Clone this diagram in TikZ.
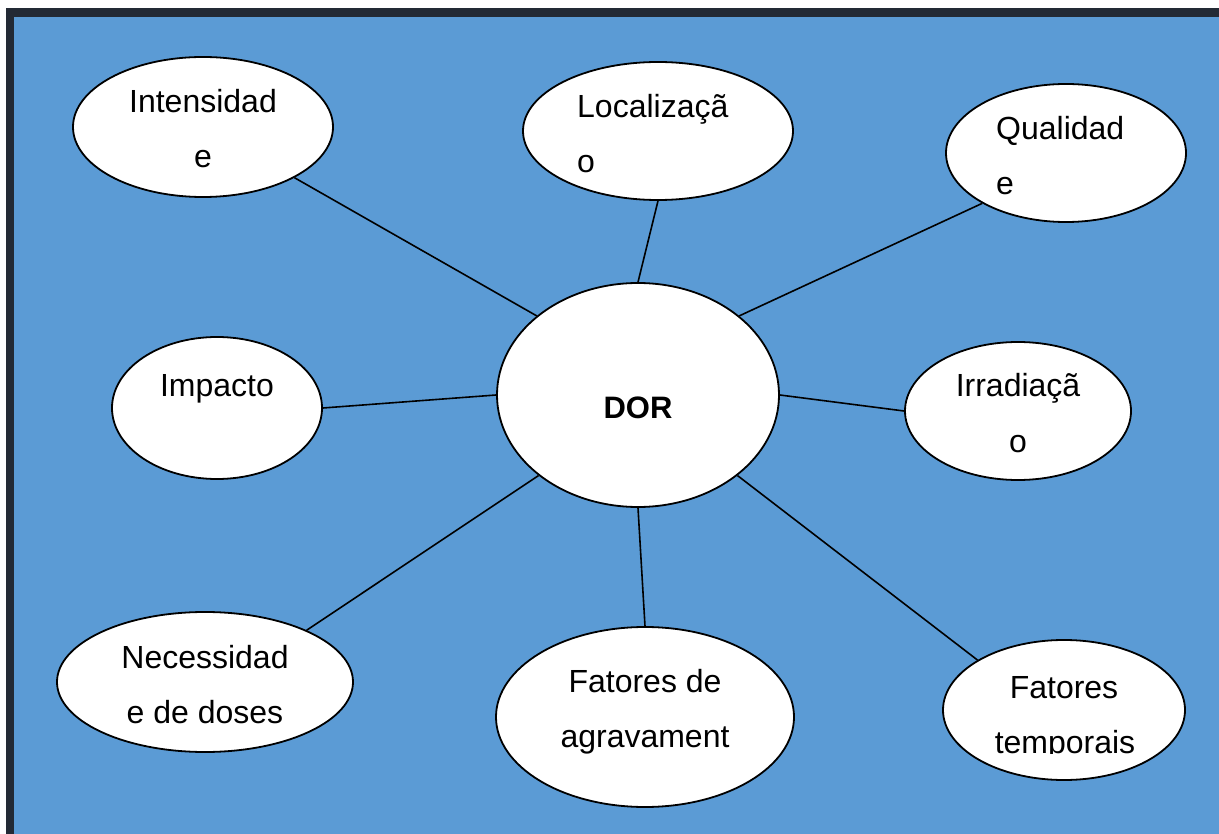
\documentclass[tikz,border=0pt]{standalone}
\usepackage{fontspec}
\setmainfont{Liberation Sans}
\usetikzlibrary{shapes.geometric}
\definecolor{bgblue}{HTML}{5B9BD5}
\definecolor{framecol}{HTML}{232A35}
\begin{document}
\begin{tikzpicture}[x=1pt,y=-1pt,
  bubble/.style={ellipse, draw=black, line width=1.8pt, fill=white, inner sep=0pt},
  lbl/.style={inner sep=0pt, font=\fontsize{32}{36}\selectfont},
  link/.style={draw=black, line width=1.6pt}]
\useasboundingbox (0,0) rectangle (1219,834);
\fill[white] (0,0) rectangle (1219,834);
\fill[framecol] (6,8) rectangle (1219,834);
\fill[bgblue] (14,17) rectangle (1219,834);

% ellipses
\node[bubble, minimum width=260pt, minimum height=140pt] (int) at (203,127) {};
\node[bubble, minimum width=270pt, minimum height=138pt] (loc) at (658,131) {};
\node[bubble, minimum width=240pt, minimum height=138pt] (qual) at (1066,153) {};
\node[bubble, minimum width=210pt, minimum height=142pt] (imp) at (217,408) {};
\node[bubble, minimum width=282pt, minimum height=224pt] (dor) at (638,395) {};
\node[bubble, minimum width=226pt, minimum height=138pt] (irr) at (1018,411) {};
\node[bubble, minimum width=296pt, minimum height=140pt] (nec) at (205,682) {};
\node[bubble, minimum width=298pt, minimum height=180pt] (agr) at (645,717) {};
\node[bubble, minimum width=242pt, minimum height=140pt] (temp) at (1064,710) {};

% connectors
\draw[link] (dor.142) -- (int.331);
\draw[link] (dor.90) -- (loc.270);
\draw[link] (dor.38) -- (qual.211);
\draw[link] (dor.180) -- (imp.0);
\draw[link] (dor.0) -- (irr.180);
\draw[link] (dor.219) -- (nec.27);
\draw[link] (dor.270) -- (agr.90);
\draw[link] (dor.321) -- (temp.150);

% labels
\node[lbl, anchor=base] (int1) at (203,113) {Intensidad};
\node[lbl, anchor=base] (int2) at (203,168) {e};
\node[lbl, anchor=base west] (loc1) at (577,118) {Localizaçã};
\node[lbl, anchor=base west] (loc2) at (577,173) {o};
\node[lbl, anchor=base west] (qual1) at (996,140) {Qualidad};
\node[lbl, anchor=base west] (qual2) at (996,195) {e};
\node[lbl, anchor=base] (imp1) at (217,397) {Impacto};
\node[lbl, anchor=base, font=\fontsize{31}{36}\selectfont\bfseries] (dor1) at (638,419) {DOR};
\node[lbl, anchor=base] (irr1) at (1018,397) {Irradiaçã};
\node[lbl, anchor=base] (irr2) at (1018,452) {o};
\node[lbl, anchor=base] (nec1) at (205,668) {Necessidad};
\node[lbl, anchor=base] (nec2) at (205,723) {e de doses};
\node[lbl, anchor=base] (agr1) at (645,692) {Fatores de};
\node[lbl, anchor=base] (agr2) at (645,747) {agravament};
\node[lbl, anchor=base] (temp1) at (1064,698) {Fatores};
\begin{scope}
\clip (940,700) rectangle (1190,753);
\node[lbl, anchor=base] (temp2) at (1065,753) {temporais};
\end{scope}
\end{tikzpicture}
\end{document}
